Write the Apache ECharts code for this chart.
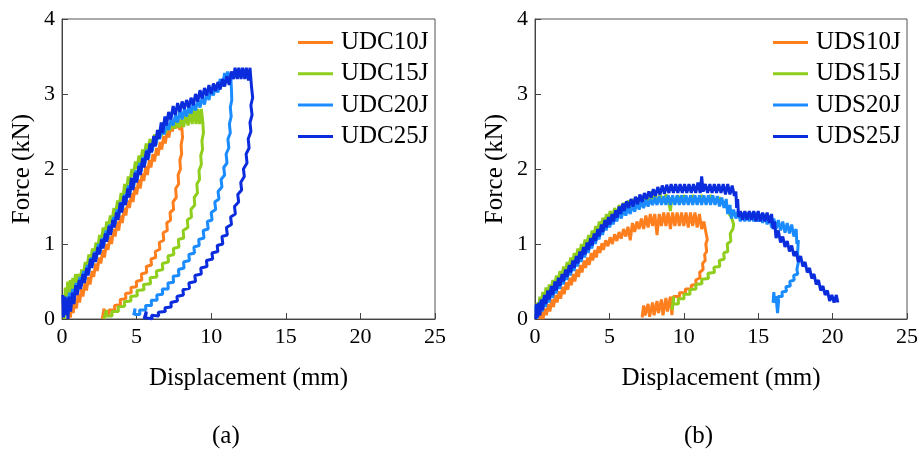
<!DOCTYPE html>
<html>
<head>
<meta charset="utf-8">
<script src="https://cdn.jsdelivr.net/npm/echarts@6/dist/echarts.min.js"></script>
<style>
html,body{margin:0;padding:0;background:#fff;}
#chart{width:921px;height:453px;}
</style>
</head>
<body>
<div id="chart"></div>
<script>
const xTicks = [0, 5, 10, 15, 20, 25];
const yTicks = [0, 1, 2, 3, 4];
const namesA = ['UDC10J', 'UDC15J', 'UDC20J', 'UDC25J'];
const namesB = ['UDS10J', 'UDS15J', 'UDS20J', 'UDS25J'];
const colors = ['#ff7f1f', '#8fce1c', '#1a8cff', '#0a2cdc'];

const udc10 = [[0.4,0.0],[0.48,0.15],[0.56,0.02],[0.65,0.2],[0.75,0.08],[0.86,0.26],[0.96,0.14],[1.08,0.32],[1.18,0.22],[1.3,0.4],[1.4,0.3],[1.54,0.48],[1.64,0.38],[1.78,0.56],[1.88,0.46],[2.02,0.64],[2.12,0.56],[2.26,0.74],[2.36,0.64],[2.5,0.82],[2.6,0.74],[2.74,0.92],[2.84,0.82],[2.98,1.0],[3.08,0.92],[3.22,1.1],[3.32,1.0],[3.46,1.2],[3.56,1.1],[3.7,1.3],[3.8,1.18],[3.94,1.38],[4.04,1.28],[4.18,1.48],[4.28,1.38],[4.42,1.58],[4.52,1.48],[4.66,1.68],[4.76,1.56],[4.9,1.76],[5.0,1.66],[5.14,1.86],[5.24,1.74],[5.38,1.94],[5.48,1.84],[5.62,2.04],[5.72,1.92],[5.86,2.12],[5.96,2.02],[6.1,2.2],[6.2,2.1],[6.34,2.28],[6.44,2.18],[6.58,2.36],[6.68,2.26],[6.82,2.44],[6.92,2.34],[7.06,2.52],[7.16,2.42],[7.3,2.6],[7.4,2.5],[7.54,2.66],[7.64,2.54],[7.78,2.66],[7.9,2.52],[8.02,2.58],
[8.08,2.42],[7.98,2.32],[8.02,2.2],[7.9,2.12],[7.94,2.0],[7.78,1.92],[7.82,1.8],[7.62,1.74],[7.66,1.62],[7.44,1.56],[7.48,1.46],[7.24,1.42],[7.28,1.32],[7.02,1.28],[7.06,1.18],[6.78,1.15],[6.82,1.05],[6.52,1.02],[6.56,0.93],[6.25,0.9],[6.28,0.82],[5.96,0.8],[6.0,0.72],[5.65,0.7],[5.68,0.62],[5.32,0.6],[5.35,0.52],[4.98,0.5],[5.0,0.43],[4.62,0.42],[4.64,0.35],[4.26,0.34],[4.28,0.27],[3.9,0.26],[3.92,0.19],[3.52,0.18],[3.54,0.12],[3.15,0.12],[3.16,0.06],[2.8,0.06],[2.82,0.14],[2.7,0.0]];

const udc15 = [[0.15,0.0],[0.22,0.42],[0.3,0.15],[0.38,0.5],[0.46,0.28],[0.55,0.52],[0.63,0.3],[0.72,0.55],[0.8,0.36],[0.9,0.6],[0.98,0.42],[1.1,0.6],[1.2,0.5],[1.32,0.66],[1.42,0.58],[1.56,0.76],[1.66,0.66],[1.8,0.86],[1.9,0.74],[2.04,0.94],[2.14,0.84],[2.28,1.02],[2.38,0.92],[2.52,1.12],[2.62,1.02],[2.76,1.22],[2.86,1.1],[3.0,1.3],[3.1,1.2],[3.24,1.38],[3.34,1.28],[3.48,1.48],[3.58,1.38],[3.72,1.58],[3.82,1.48],[3.96,1.68],[4.06,1.58],[4.2,1.8],[4.3,1.68],[4.44,1.9],[4.54,1.8],[4.68,2.0],[4.78,1.9],[4.92,2.1],[5.02,2.0],[5.16,2.18],[5.26,2.08],[5.4,2.26],[5.5,2.16],[5.64,2.34],[5.74,2.24],[5.9,2.4],[6.05,2.32],[6.2,2.46],[6.35,2.38],[6.5,2.52],[6.65,2.44],[6.8,2.58],[6.95,2.48],[7.1,2.6],[7.25,2.52],[7.4,2.62],[7.55,2.54],[7.7,2.64],[7.85,2.55],[8.0,2.66],[8.15,2.56],[8.3,2.72],[8.45,2.58],[8.6,2.78],[8.72,2.6],[8.85,2.8],[8.98,2.6],[9.1,2.8],[9.22,2.6],[9.34,2.8],[9.44,2.62],
[9.48,2.48],[9.38,2.38],[9.42,2.26],[9.3,2.18],[9.34,2.06],[9.18,1.98],[9.22,1.86],[9.04,1.8],[9.08,1.68],[8.86,1.62],[8.9,1.52],[8.64,1.46],[8.68,1.36],[8.4,1.32],[8.44,1.22],[8.12,1.18],[8.16,1.08],[7.8,1.06],[7.84,0.96],[7.46,0.94],[7.5,0.86],[7.1,0.84],[7.14,0.76],[6.72,0.74],[6.76,0.66],[6.32,0.64],[6.36,0.56],[5.9,0.55],[5.94,0.47],[5.46,0.46],[5.5,0.39],[5.02,0.38],[5.05,0.31],[4.6,0.3],[4.62,0.24],[4.18,0.23],[4.2,0.17],[3.76,0.16],[3.78,0.1],[3.34,0.1],[3.36,0.04],[2.95,0.04],[2.98,0.12],[2.82,0.0]];

const udc20 = [[0.08,0.05],[0.14,0.28],[0.22,0.08],[0.3,0.3],[0.4,0.12],[0.5,0.35],[0.6,0.2],[0.72,0.4],[0.82,0.28],[0.95,0.48],[1.05,0.36],[1.2,0.56],[1.3,0.44],[1.45,0.64],[1.55,0.52],[1.7,0.72],[1.8,0.62],[1.95,0.82],[2.05,0.72],[2.2,0.9],[2.3,0.8],[2.45,1.0],[2.55,0.88],[2.7,1.08],[2.8,0.98],[2.95,1.18],[3.05,1.06],[3.2,1.26],[3.3,1.16],[3.45,1.36],[3.55,1.26],[3.7,1.46],[3.8,1.36],[3.95,1.56],[4.05,1.46],[4.2,1.66],[4.3,1.56],[4.45,1.78],[4.55,1.66],[4.7,1.88],[4.8,1.76],[4.95,1.98],[5.05,1.86],[5.2,2.08],[5.3,1.96],[5.45,2.16],[5.55,2.06],[5.7,2.26],[5.8,2.14],[5.95,2.34],[6.05,2.24],[6.2,2.42],[6.3,2.32],[6.45,2.5],[6.55,2.4],[6.7,2.56],[6.85,2.46],[7.0,2.62],[7.15,2.52],[7.3,2.66],[7.45,2.58],[7.6,2.72],[7.75,2.62],[7.9,2.78],[8.05,2.66],[8.2,2.8],[8.35,2.7],[8.5,2.84],[8.65,2.74],[8.8,2.88],[8.95,2.78],[9.1,2.92],[9.25,2.82],[9.4,2.96],[9.55,2.86],[9.7,3.02],[9.85,2.92],[10.0,3.06],[10.15,2.98],[10.3,3.12],[10.45,3.02],[10.6,3.2],[10.75,3.1],[10.9,3.28],[11.0,3.15],[11.1,3.3],[11.2,3.16],[11.3,3.28],[11.36,3.05],
[11.38,2.92],[11.28,2.82],[11.34,2.7],[11.22,2.6],[11.28,2.48],[11.12,2.4],[11.18,2.28],[11.0,2.2],[11.06,2.08],[10.84,2.02],[10.9,1.92],[10.66,1.86],[10.72,1.76],[10.46,1.7],[10.52,1.6],[10.24,1.56],[10.3,1.46],[10.0,1.42],[10.06,1.32],[9.74,1.3],[9.8,1.2],[9.46,1.18],[9.52,1.08],[9.16,1.06],[9.2,0.98],[8.84,0.96],[8.88,0.88],[8.5,0.86],[8.54,0.78],[8.15,0.76],[8.18,0.68],[7.8,0.66],[7.84,0.58],[7.45,0.57],[7.48,0.49],[7.1,0.48],[7.12,0.4],[6.72,0.4],[6.75,0.33],[6.35,0.32],[6.38,0.25],[5.98,0.25],[6.0,0.18],[5.6,0.18],[5.62,0.12],[5.2,0.12],[5.22,0.06],[4.85,0.06],[4.9,0.14],[4.8,0.05]];

const udc25 = [[0.05,0.32],[0.1,0.02],[0.18,0.3],[0.25,0.05],[0.32,0.28],[0.4,0.0],[0.48,0.3],[0.58,0.1],[0.7,0.35],[0.8,0.2],[0.92,0.45],[1.02,0.32],[1.15,0.52],[1.25,0.4],[1.4,0.6],[1.5,0.48],[1.65,0.68],[1.75,0.58],[1.9,0.8],[2.0,0.68],[2.15,0.88],[2.25,0.76],[2.4,0.96],[2.5,0.86],[2.65,1.06],[2.75,0.94],[2.9,1.14],[3.0,1.03],[3.15,1.24],[3.25,1.12],[3.4,1.32],[3.5,1.22],[3.65,1.42],[3.75,1.32],[3.9,1.55],[4.0,1.42],[4.15,1.64],[4.25,1.52],[4.4,1.74],[4.5,1.62],[4.65,1.88],[4.75,1.72],[4.9,1.95],[5.0,1.82],[5.15,2.04],[5.25,1.92],[5.4,2.14],[5.5,2.02],[5.65,2.24],[5.75,2.12],[5.9,2.34],[6.0,2.22],[6.15,2.44],[6.25,2.3],[6.4,2.52],[6.5,2.4],[6.65,2.62],[6.75,2.48],[6.9,2.7],[7.0,2.58],[7.15,2.76],[7.3,2.66],[7.45,2.84],[7.6,2.72],[7.75,2.88],[7.9,2.76],[8.05,2.9],[8.2,2.8],[8.35,2.92],[8.5,2.82],[8.65,2.95],[8.8,2.85],[8.95,3.0],[9.1,2.9],[9.25,3.05],[9.4,2.94],[9.55,3.08],[9.7,2.98],[9.85,3.12],[10.0,3.0],[10.15,3.14],[10.3,3.04],[10.45,3.16],[10.6,3.06],[10.75,3.2],[10.9,3.1],[11.05,3.24],[11.2,3.12],[11.35,3.3],[11.5,3.2],[11.6,3.35],[11.75,3.2],[11.85,3.35],[12.0,3.2],[12.1,3.35],[12.25,3.2],[12.35,3.35],[12.5,3.18],[12.6,3.35],[12.7,3.1],
[12.78,2.95],[12.66,2.85],[12.74,2.72],[12.6,2.62],[12.66,2.5],[12.48,2.4],[12.54,2.28],[12.34,2.2],[12.4,2.08],[12.16,2.0],[12.22,1.9],[11.98,1.82],[12.04,1.72],[11.78,1.66],[11.84,1.56],[11.56,1.5],[11.62,1.4],[11.3,1.36],[11.36,1.26],[11.02,1.22],[11.08,1.12],[10.72,1.1],[10.78,1.0],[10.4,0.98],[10.45,0.9],[10.05,0.88],[10.1,0.8],[9.68,0.78],[9.72,0.7],[9.3,0.68],[9.34,0.6],[8.9,0.58],[8.95,0.5],[8.5,0.48],[8.55,0.41],[8.1,0.39],[8.14,0.32],[7.7,0.3],[7.74,0.24],[7.3,0.22],[7.32,0.16],[6.9,0.15],[6.92,0.1],[6.45,0.09],[6.48,0.04],[6.0,0.05],[6.05,0.0],[5.6,0.02],[5.65,0.1],[5.5,0.0]];

const uds10 = [[0.12,0.0],[0.22,0.08],[0.32,0.0],[0.44,0.1],[0.54,0.0],[0.66,0.14],[0.76,0.05],[0.9,0.2],[1.0,0.1],[1.14,0.26],[1.24,0.16],[1.38,0.32],[1.48,0.22],[1.62,0.37],[1.72,0.27],[1.86,0.43],[1.96,0.33],[2.1,0.49],[2.2,0.39],[2.34,0.55],[2.44,0.45],[2.58,0.6],[2.68,0.5],[2.82,0.66],[2.92,0.56],[3.06,0.72],[3.16,0.62],[3.3,0.78],[3.4,0.68],[3.54,0.82],[3.64,0.72],[3.78,0.88],[3.88,0.78],[4.02,0.92],[4.12,0.82],[4.26,0.97],[4.36,0.88],[4.5,1.01],[4.6,0.92],[4.75,1.05],[4.9,0.97],[5.05,1.09],[5.2,1.0],[5.35,1.13],[5.5,1.04],[5.65,1.16],[5.8,1.07],[5.95,1.2],[6.1,1.1],[6.25,1.23],[6.4,1.05],[6.55,1.28],[6.7,1.16],[6.85,1.3],[7.0,1.2],[7.15,1.34],[7.3,1.2],[7.45,1.38],[7.6,1.22],[7.75,1.4],[7.9,1.24],[8.05,1.4],[8.2,1.12],[8.35,1.4],[8.5,1.24],[8.65,1.42],[8.8,1.24],[8.95,1.42],[9.1,1.2],[9.25,1.42],[9.4,1.24],[9.55,1.42],[9.7,1.24],[9.85,1.42],[10.0,1.24],[10.15,1.42],[10.3,1.22],[10.45,1.42],[10.6,1.24],[10.75,1.42],[10.9,1.22],[11.05,1.4],[11.2,1.2],[11.35,1.3],[11.5,1.14],
[11.58,1.06],[11.48,1.0],[11.54,0.9],[11.4,0.86],[11.44,0.78],[11.26,0.74],[11.3,0.66],[11.06,0.62],[11.1,0.55],[10.8,0.52],[10.84,0.46],[10.5,0.45],[10.52,0.4],[10.1,0.4],[10.12,0.35],[9.7,0.35],[9.72,0.3],[9.3,0.3],[9.2,0.05],[9.1,0.3],[8.9,0.1],[8.8,0.28],[8.6,0.05],[8.5,0.26],[8.3,0.08],[8.2,0.24],[8.0,0.05],[7.9,0.22],[7.7,0.03],[7.6,0.2],[7.4,0.05],[7.3,0.18],[7.2,0.02]];

const uds15 = [[0.08,0.05],[0.15,0.22],[0.24,0.08],[0.32,0.3],[0.42,0.16],[0.52,0.36],[0.62,0.24],[0.74,0.42],[0.84,0.3],[0.96,0.46],[1.06,0.36],[1.2,0.52],[1.3,0.42],[1.44,0.58],[1.54,0.48],[1.68,0.64],[1.78,0.54],[1.92,0.7],[2.02,0.6],[2.16,0.76],[2.26,0.66],[2.4,0.82],[2.5,0.72],[2.64,0.88],[2.74,0.78],[2.88,0.94],[2.98,0.84],[3.12,1.0],[3.22,0.9],[3.36,1.06],[3.46,0.96],[3.6,1.12],[3.7,1.02],[3.84,1.18],[3.94,1.08],[4.08,1.24],[4.18,1.14],[4.32,1.3],[4.42,1.2],[4.56,1.35],[4.66,1.25],[4.8,1.4],[4.9,1.3],[5.05,1.44],[5.2,1.35],[5.35,1.48],[5.5,1.38],[5.65,1.52],[5.8,1.42],[5.95,1.55],[6.1,1.45],[6.25,1.58],[6.4,1.48],[6.55,1.6],[6.7,1.5],[6.85,1.62],[7.0,1.52],[7.15,1.64],[7.3,1.54],[7.45,1.66],[7.6,1.55],[7.75,1.7],[7.9,1.55],[8.05,1.68],[8.2,1.55],[8.4,1.66],[8.6,1.55],[8.8,1.66],[9.0,1.55],[9.1,1.44],[9.2,1.62],[9.4,1.55],[9.6,1.65],[9.8,1.55],[10.0,1.65],[10.3,1.55],[10.6,1.65],[10.9,1.55],[11.2,1.65],[11.5,1.55],[11.8,1.65],[12.1,1.55],[12.4,1.62],[12.7,1.52],[12.9,1.5],[13.05,1.4],[13.2,1.36],[13.35,1.26],
[13.3,1.2],[13.12,1.14],[13.16,1.04],[12.92,1.0],[12.96,0.9],[12.68,0.88],[12.72,0.8],[12.38,0.78],[12.42,0.7],[12.02,0.69],[12.06,0.62],[11.62,0.61],[11.66,0.54],[11.2,0.53],[11.22,0.47],[10.8,0.46],[10.82,0.4],[10.4,0.39],[10.42,0.33],[10.0,0.33],[10.02,0.27],[9.62,0.27],[9.64,0.2],[9.3,0.2],[9.32,0.3],[9.2,0.12]];

const uds20 = [[0.05,0.18],[0.12,0.0],[0.2,0.2],[0.28,0.05],[0.38,0.24],[0.48,0.1],[0.6,0.28],[0.7,0.16],[0.84,0.34],[0.94,0.22],[1.08,0.4],[1.18,0.28],[1.32,0.46],[1.42,0.34],[1.56,0.52],[1.66,0.4],[1.8,0.57],[1.9,0.46],[2.04,0.62],[2.14,0.52],[2.28,0.68],[2.38,0.58],[2.52,0.74],[2.62,0.64],[2.76,0.8],[2.86,0.7],[3.0,0.86],[3.1,0.76],[3.24,0.92],[3.34,0.82],[3.48,0.98],[3.58,0.88],[3.72,1.04],[3.82,0.94],[3.96,1.1],[4.06,1.0],[4.2,1.16],[4.3,1.06],[4.44,1.22],[4.54,1.12],[4.68,1.28],[4.78,1.18],[4.92,1.32],[5.02,1.22],[5.16,1.36],[5.26,1.26],[5.4,1.4],[5.5,1.3],[5.65,1.43],[5.8,1.34],[5.95,1.46],[6.1,1.38],[6.25,1.49],[6.4,1.4],[6.55,1.52],[6.7,1.43],[6.85,1.55],[7.0,1.46],[7.15,1.57],[7.3,1.48],[7.45,1.59],[7.6,1.5],[7.75,1.6],[7.9,1.52],[8.05,1.62],[8.2,1.52],[8.35,1.64],[8.5,1.52],[8.65,1.64],[8.8,1.52],[8.95,1.65],[9.1,1.52],[9.25,1.65],[9.4,1.52],[9.55,1.65],[9.7,1.52],[9.85,1.65],[10.0,1.52],[10.15,1.65],[10.3,1.52],[10.45,1.65],[10.6,1.52],[10.75,1.65],[10.9,1.52],[11.05,1.65],[11.2,1.52],[11.35,1.65],[11.5,1.52],[11.65,1.65],[11.8,1.52],[11.95,1.65],[12.1,1.52],[12.25,1.64],[12.4,1.5],[12.55,1.62],[12.7,1.48],[12.85,1.6],[12.95,1.4],[13.1,1.52],[13.2,1.34],[13.35,1.46],[13.5,1.34],[13.65,1.44],[13.8,1.3],[13.95,1.42],[14.1,1.3],[14.25,1.42],[14.4,1.3],[14.55,1.42],[14.7,1.3],[14.85,1.42],[15.0,1.3],[15.15,1.4],[15.3,1.28],[15.45,1.4],[15.6,1.26],[15.75,1.38],[15.9,1.22],[16.05,1.34],[16.2,1.2],[16.35,1.32],[16.5,1.18],[16.65,1.3],[16.8,1.15],[16.95,1.28],[17.1,1.14],[17.25,1.26],[17.4,1.1],[17.55,1.2],[17.6,1.0],[17.7,1.05],[17.65,0.88],[17.78,0.9],[17.7,0.76],[17.82,0.74],[17.6,0.66],[17.66,0.6],[17.38,0.58],[17.42,0.52],[17.12,0.5],[17.16,0.44],[16.86,0.43],[16.9,0.37],[16.6,0.36],[16.62,0.3],[16.34,0.3],[16.36,0.22],[16.1,0.24],[16.05,0.36],[16.0,0.22],[16.2,0.3],[16.3,0.08],[16.38,0.26]];

const uds25 = [[0.05,0.0],[0.1,0.2],[0.18,0.02],[0.25,0.22],[0.33,0.05],[0.42,0.26],[0.52,0.12],[0.64,0.32],[0.74,0.2],[0.86,0.38],[0.96,0.26],[1.1,0.44],[1.2,0.32],[1.34,0.5],[1.44,0.38],[1.58,0.55],[1.68,0.44],[1.82,0.6],[1.92,0.5],[2.06,0.66],[2.16,0.56],[2.3,0.72],[2.4,0.62],[2.54,0.78],[2.64,0.68],[2.78,0.84],[2.88,0.74],[3.02,0.9],[3.12,0.8],[3.26,0.96],[3.36,0.86],[3.5,1.02],[3.6,0.92],[3.74,1.08],[3.84,0.98],[3.98,1.14],[4.08,1.04],[4.22,1.2],[4.32,1.1],[4.46,1.26],[4.56,1.16],[4.7,1.32],[4.8,1.22],[4.94,1.36],[5.04,1.26],[5.18,1.4],[5.28,1.3],[5.42,1.45],[5.52,1.35],[5.66,1.5],[5.76,1.4],[5.9,1.54],[6.0,1.44],[6.15,1.57],[6.3,1.48],[6.45,1.6],[6.6,1.5],[6.75,1.63],[6.9,1.53],[7.05,1.66],[7.2,1.56],[7.35,1.68],[7.5,1.6],[7.65,1.7],[7.8,1.62],[7.95,1.73],[8.1,1.64],[8.25,1.76],[8.4,1.66],[8.55,1.78],[8.7,1.67],[8.85,1.79],[9.0,1.68],[9.15,1.8],[9.3,1.68],[9.45,1.8],[9.6,1.68],[9.75,1.8],[9.9,1.68],[10.05,1.8],[10.2,1.68],[10.35,1.8],[10.5,1.68],[10.65,1.8],[10.8,1.68],[10.95,1.82],[11.1,1.68],[11.2,1.9],[11.3,1.7],[11.45,1.8],[11.6,1.68],[11.75,1.8],[11.9,1.68],[12.05,1.8],[12.2,1.68],[12.35,1.8],[12.5,1.68],[12.65,1.8],[12.8,1.66],[12.95,1.8],[13.1,1.66],[13.25,1.78],[13.4,1.64],[13.5,1.7],[13.55,1.48],[13.62,1.6],[13.68,1.36],[13.8,1.44],[13.95,1.32],[14.1,1.44],[14.25,1.32],[14.4,1.44],[14.55,1.32],[14.7,1.44],[14.85,1.3],[15.0,1.44],[15.15,1.3],[15.3,1.42],[15.45,1.3],[15.6,1.42],[15.75,1.28],[15.9,1.4],[16.0,1.2],[16.1,1.3],[16.2,1.08],[16.35,1.18],[16.5,1.02],[16.65,1.1],[16.8,0.96],[16.95,1.04],[17.1,0.9],[17.25,0.98],[17.4,0.84],[17.55,0.9],[17.7,0.76],[17.85,0.84],[18.0,0.7],[18.15,0.76],[18.3,0.62],[18.45,0.68],[18.6,0.54],[18.75,0.6],[18.9,0.46],[19.05,0.52],[19.2,0.38],[19.35,0.44],[19.5,0.32],[19.65,0.38],[19.8,0.24],[19.95,0.32],[20.1,0.22],[20.25,0.32],[20.35,0.22]];

const dataA = [udc10, udc15, udc20, udc25];
const dataB = [uds10, uds15, uds20, uds25];

const FONT = "'Liberation Serif', 'Times New Roman', serif";
const TXT = '#000';
const chart = echarts.init(document.getElementById('chart'));

function xAxis(gi) {
  return {
    type: 'value', gridIndex: gi, min: xTicks[0], max: xTicks[xTicks.length - 1], interval: 5,
    name: 'Displacement (mm)', nameLocation: 'middle', nameGap: 47,
    nameTextStyle: { fontFamily: FONT, fontSize: 25, color: TXT },
    axisLine: { show: true, lineStyle: { color: '#444', width: 1 } },
    axisTick: { show: true, inside: true, length: 6, lineStyle: { color: '#444' } },
    axisLabel: { fontFamily: FONT, fontSize: 22, color: TXT, margin: 7 },
    splitLine: { show: false }
  };
}
function yAxis(gi) {
  return {
    type: 'value', gridIndex: gi, min: yTicks[0], max: yTicks[yTicks.length - 1], interval: 1,
    name: 'Force (kN)', nameLocation: 'middle', nameGap: 27,
    nameTextStyle: { fontFamily: FONT, fontSize: 25, color: TXT },
    axisLine: { show: true, lineStyle: { color: '#444', width: 1 } },
    axisTick: { show: true, inside: true, length: 6, lineStyle: { color: '#444' } },
    axisLabel: { fontFamily: FONT, fontSize: 22, color: TXT, margin: 7 },
    splitLine: { show: false }
  };
}
function legend(names, left) {
  return {
    data: names, orient: 'vertical', left: left, top: 25,
    icon: 'rect', itemWidth: 35, itemHeight: 3, itemGap: 6.3,
    textStyle: { fontFamily: FONT, fontSize: 25, color: TXT, lineHeight: 25, padding: [0, 0, 0, 3] }
  };
}
const series = [];
namesA.forEach((n, i) => series.push({
  name: n, type: 'line', xAxisIndex: 0, yAxisIndex: 0, data: dataA[i],
  showSymbol: false, symbol: 'none', lineStyle: { width: 3, color: colors[i] }, itemStyle: { color: colors[i] },
  animation: false, z: 2 + i
}));
namesB.forEach((n, i) => series.push({
  name: n, type: 'line', xAxisIndex: 1, yAxisIndex: 1, data: dataB[i],
  showSymbol: false, symbol: 'none', lineStyle: { width: 3, color: colors[i] }, itemStyle: { color: colors[i] },
  animation: false, z: 2 + i
}));

chart.setOption({
  animation: false,
  backgroundColor: '#fff',
  textStyle: { fontFamily: FONT },
  grid: [
    { left: 62, right: 486, top: 19, bottom: 134, show: true, borderColor: '#555', borderWidth: 1, containLabel: false },
    { left: 535, right: 13, top: 19, bottom: 134, show: true, borderColor: '#555', borderWidth: 1, containLabel: false }
  ],
  xAxis: [xAxis(0), xAxis(1)],
  yAxis: [yAxis(0), yAxis(1)],
  legend: [legend(namesA, 293), legend(namesB, 768)],
  graphic: [
    { type: 'text', left: 212, top: 424, style: { text: '(a)', fontFamily: FONT, fontSize: 25, fill: TXT } },
    { type: 'text', left: 684, top: 424, style: { text: '(b)', fontFamily: FONT, fontSize: 25, fill: TXT } }
  ],
  series: series
});
</script>
</body>
</html>
